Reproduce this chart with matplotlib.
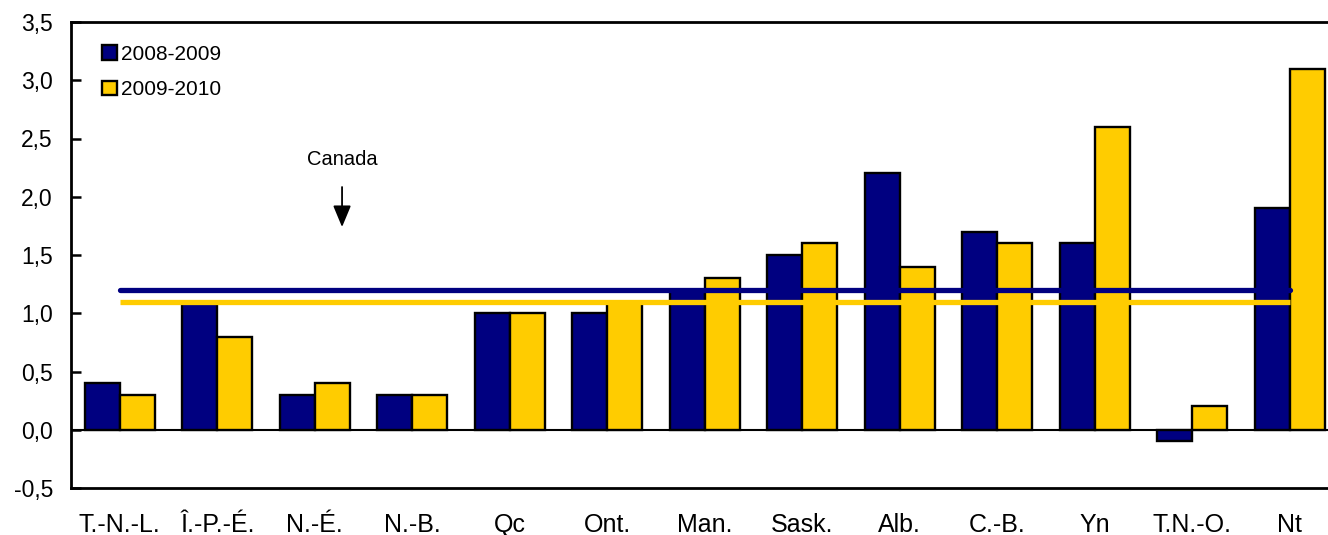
import matplotlib
matplotlib.use("Agg")
import matplotlib.pyplot as plt
import numpy as np

plt.rcParams['font.family'] = ['Liberation Sans', 'DejaVu Sans']

categories = ["T.-N.-L.", "Î.-P.-É.", "N.-É.", "N.-B.", "Qc", "Ont.", "Man.",
              "Sask.", "Alb.", "C.-B.", "Yn", "T.N.-O.", "Nt"]
series_names = ["2008-2009", "2009-2010"]
v_2008_2009 = [0.4, 1.1, 0.3, 0.3, 1.0, 1.0, 1.2, 1.5, 2.2, 1.7, 1.6, -0.1, 1.9]
v_2009_2010 = [0.3, 0.8, 0.4, 0.3, 1.0, 1.1, 1.3, 1.6, 1.4, 1.6, 2.6, 0.2, 3.1]
canada = [1.2, 1.1]
yticks = [-0.5, 0.0, 0.5, 1.0, 1.5, 2.0, 2.5, 3.0, 3.5]

navy = "#000080"
gold = "#FFCC00"

fig = plt.figure(figsize=(13.28, 5.35), dpi=100)
ax = fig.add_axes([71/1328, 1-488/535, 1-71/1328, (488-22)/535])

x = np.arange(len(categories))
w = 0.36
ax.bar(x - w/2, v_2008_2009, width=w, color=navy, edgecolor="black",
       linewidth=1.7, label=series_names[0], zorder=2)
ax.bar(x + w/2, v_2009_2010, width=w, color=gold, edgecolor="black",
       linewidth=1.7, label=series_names[1], zorder=2)

ax.axhline(0, color="black", linewidth=1.5, zorder=1)

ax.plot([x[0], x[-1]], [canada[0]]*2, color=navy, linewidth=3.8,
        solid_capstyle="round", zorder=3)
ax.plot([x[0], x[-1]], [canada[1]]*2, color=gold, linewidth=3.8,
        solid_capstyle="butt", zorder=3)

ax.annotate("Canada", xy=(2.28, 1.74), xytext=(2.28, 2.32),
            ha="center", va="center", fontsize=14.5,
            arrowprops=dict(arrowstyle="-|>,head_length=0.6,head_width=0.25",
                            color="black", lw=1.3,
                            mutation_scale=22, shrinkA=11, shrinkB=0))

ax.set_xlim(-0.5, (1328-71)/97.5 - 0.5)
ax.set_ylim(-0.5, 3.5)
ax.set_yticks(yticks)
ax.set_yticklabels([f"{t:.1f}".replace(".", ",") for t in yticks], fontsize=16.5)
ax.set_xticks(x)
ax.set_xticklabels(categories, fontsize=18)
ax.tick_params(axis="x", length=0, pad=18)
ax.tick_params(axis="y", direction="in", length=7, width=1.8, pad=13)

for s in ["left", "bottom", "top"]:
    ax.spines[s].set_linewidth(2.0)
ax.spines["right"].set_visible(False)

leg = ax.legend(loc="upper left", bbox_to_anchor=(0.015, 0.978), frameon=False,
                fontsize=15, handlelength=0.7, handleheight=0.7,
                handletextpad=0.2, labelspacing=0.8, borderaxespad=0.2)

fig.savefig("out.png", dpi=100)
